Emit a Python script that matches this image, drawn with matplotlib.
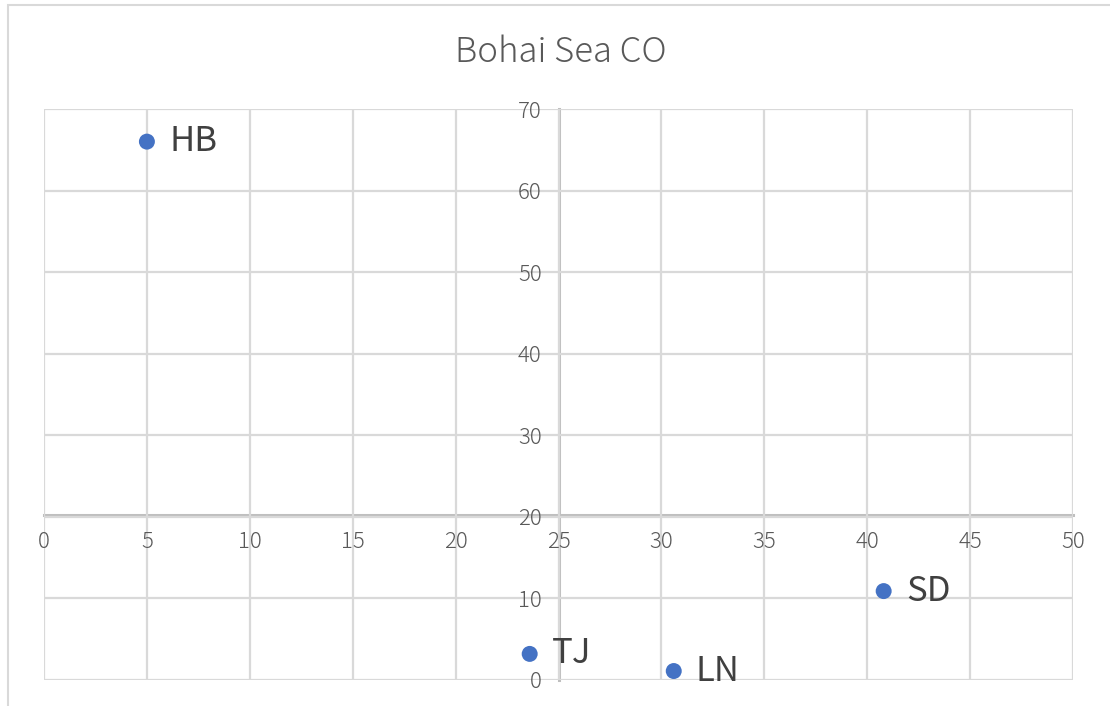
import matplotlib
matplotlib.use("Agg")
import matplotlib.pyplot as plt
from matplotlib.patches import Rectangle

plt.rcParams['font.family'] = ['Noto Sans CJK JP', 'DejaVu Sans']

# Province positions for Bohai Sea CO
provinces = ["HB", "TJ", "LN", "SD"]
x_vals = [5.0, 23.6, 30.6, 40.8]
y_vals = [66.0, 3.2, 1.1, 10.9]

x_ticks = [0, 5, 10, 15, 20, 25, 30, 35, 40, 45, 50]
y_ticks = [0, 10, 20, 30, 40, 50, 60, 70]

W, H = 1110, 706
fig = plt.figure(figsize=(W / 100, H / 100), dpi=100)
fig.patch.set_facecolor("white")

# chart frame
fig.patches.append(Rectangle((8 / W, -0.1), 1.2, 1 - 5 / H + 0.1,
                             transform=fig.transFigure, fill=False,
                             edgecolor="#d9d9d9", linewidth=1.5))

ax = fig.add_axes([44 / W, 1 - 680 / H, (1073 - 44) / W, (680 - 109) / H])
ax.set_xlim(0, 50)
ax.set_ylim(0, 70)
ax.set_xticks(x_ticks)
ax.set_yticks(y_ticks)
ax.grid(True, color="#d9d9d9", linewidth=1.6, zorder=0)
for gl in ax.get_xgridlines() + ax.get_ygridlines():
    gl.set_clip_on(False)

for s in ("top", "right"):
    ax.spines[s].set_visible(False)
ax.spines["left"].set_position(("data", 25))
ax.spines["bottom"].set_position(("data", 20.2))
for s in ("left", "bottom"):
    ax.spines[s].set_color("#bfbfbf")
    ax.spines[s].set_linewidth(2.2)
    ax.spines[s].set_zorder(1)

ax.tick_params(axis="both", length=0, labelsize=16, labelcolor="#595959")
ax.tick_params(axis="x", pad=11)
ax.tick_params(axis="y", pad=12)
for lbl in ax.get_xticklabels() + ax.get_yticklabels():
    lbl.set_fontweight("light")
ax.set_facecolor("white")

ax.scatter(x_vals, y_vals, s=11.5 ** 2, color="#4472C4", zorder=3,
           clip_on=False, edgecolors="none")
for name, xv, yv in zip(provinces, x_vals, y_vals):
    ax.annotate(name, (xv, yv), xytext=(16, 0), textcoords="offset points",
                va="center", ha="left", fontsize=25, color="#404040")

fig.text(561 / W, 1 - 52 / H, "Bohai Sea CO", ha="center", va="center",
         fontsize=25, color="#595959", fontweight="light")

fig.savefig("out.png", dpi=100, facecolor="white")
